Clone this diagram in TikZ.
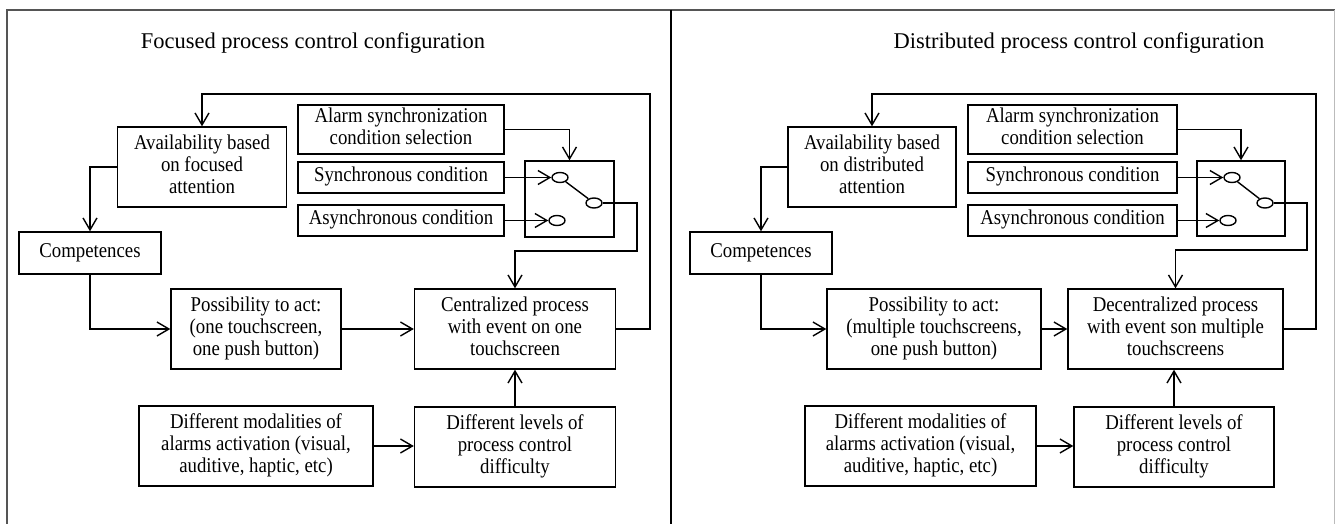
\documentclass[tikz,border=0pt]{standalone}
\usepackage{graphicx}
\usepackage{fontspec}
\setmainfont{Liberation Serif}
\usetikzlibrary{arrows.meta, positioning, calc, shapes.geometric}
\definecolor{ink}{HTML}{000000}
\definecolor{frame}{HTML}{555555}
\definecolor{edge}{HTML}{BBBBBB}
% box text is set a little taller than wide, as in the scanned figure
\newcommand{\tallcell}[1]{\scalebox{1}[1.12]{\begin{tabular}{@{}c@{}}#1\end{tabular}}}
\tikzset{
  font=\fontsize{9.4}{9.8}\selectfont,
  >={Straight Barb[length=6pt, width=7pt]},
  %
  blk/.style={draw=ink, line width=0.7pt, fill=white, align=center,
              inner sep=0pt, text=ink},
  ttl/.style={font=\fontsize{11.25}{13}\selectfont, text=ink},
  pin/.style={draw=ink, line width=0.7pt, ellipse, inner sep=0pt,
              minimum width=8pt, minimum height=5pt},
  %
  flow/.style={draw=ink, line width=0.7pt, ->},
  wire/.style={draw=ink, line width=0.7pt},
  rim/.style={draw=frame, line width=1pt},
  split/.style={draw=ink, line width=1pt},
}

\begin{document}
\begin{tikzpicture}[x=0.5pt, y=-0.5pt]

\useasboundingbox (0,0) rectangle (1335,524);

% frame
\draw[rim] (7,524) -- (7,10) -- (1335,10);
\draw[split] (671,10) -- (671,524);
\draw[draw=edge, line width=0.5pt] (1334,10) -- (1334,524);

% =========================================================================
\begin{scope}
  \node[ttl] (t1) at (313,43) {Focused process control configuration};

  \node[blk, minimum width=84.5pt, minimum height=40pt] (avail1) at (202,167)
    {\tallcell{Availability based\\on focused\\attention}};
  \node[blk, minimum width=71pt, minimum height=21pt] (comp1) at (90,253)
    {\tallcell{Competences}};
  \node[blk, minimum width=103pt, minimum height=24.5pt] (alarm1) at (401,129.5)
    {\tallcell{Alarm synchronization\\condition selection}};
  \node[blk, minimum width=103pt, minimum height=15.5pt] (sync1) at (401,177.5)
    {\tallcell{Synchronous condition}};
  \node[blk, minimum width=103pt, minimum height=15.5pt] (async1) at (401,220.5)
    {\tallcell{Asynchronous condition}};
  \node[blk, minimum width=44.5pt, minimum height=38pt] (switch1) at (569.5,199) {};
  \node[pin] (a1) at (560,177.5) {};
  \node[pin] (b1) at (594,203) {};
  \node[pin] (c1) at (557,220.5) {};
  \node[blk, minimum width=85pt, minimum height=40pt] (poss1) at (256,329)
    {\tallcell{Possibility to act:\\(one touchscreen,\\one push button)}};
  \node[blk, minimum width=100.5pt, minimum height=40pt] (cent1) at (515,329)
    {\tallcell{Centralized process\\with event on one\\touchscreen}};
  \node[blk, minimum width=117pt, minimum height=40pt] (mod1) at (256,446)
    {\tallcell{Different modalities of\\alarms activation (visual,\\auditive, haptic, etc)}};
  \node[blk, minimum width=100.5pt, minimum height=40pt] (lev1) at (515,447)
    {\tallcell{Different levels of\\process control\\difficulty}};

  \coordinate (fb1) at (650,94);
  \coordinate (j1) at (637,251);

  \draw[flow] (cent1.east) -| (fb1) -| (avail1.north);
  \draw[flow] (avail1.west) -| (comp1.north);
  \draw[flow] (comp1.south) |- (poss1.west);
  \draw[flow] (poss1) -- (cent1);
  \draw[flow] (mod1.east) -- (mod1.east -| lev1.west);
  \draw[flow] (lev1.north) -- (lev1.north |- cent1.south);
  \draw[flow] (alarm1.east) -| (switch1.north);
  \draw[flow] (sync1.east) -- (a1.west);
  \draw[flow] (async1.east) -- (c1.west);
  \draw[wire] (a1) -- (b1);
  \draw[flow] (b1.east) -| (j1) -| (cent1.north);
\end{scope}

% =========================================================================
\begin{scope}
  \node[ttl] (t2) at (1079,43) {Distributed process control configuration};

  \node[blk, minimum width=84pt, minimum height=40pt] (avail2) at (872,167)
    {\tallcell{Availability based\\on distributed\\attention}};
  \node[blk, minimum width=71pt, minimum height=21pt] (comp2) at (761,253)
    {\tallcell{Competences}};
  \node[blk, minimum width=104.5pt, minimum height=24.5pt] (alarm2) at (1072.5,129.5)
    {\tallcell{Alarm synchronization\\condition selection}};
  \node[blk, minimum width=104.5pt, minimum height=15.5pt] (sync2) at (1072.5,177.5)
    {\tallcell{Synchronous condition}};
  \node[blk, minimum width=104.5pt, minimum height=15.5pt] (async2) at (1072.5,220.5)
    {\tallcell{Asynchronous condition}};
  \node[blk, minimum width=44pt, minimum height=37.5pt] (switch2) at (1241,198.5) {};
  \node[pin] (a2) at (1232,177.5) {};
  \node[pin] (b2) at (1265,203) {};
  \node[pin] (c2) at (1228,220.5) {};
  \node[blk, minimum width=107pt, minimum height=40pt] (poss2) at (934,329)
    {\tallcell{Possibility to act:\\(multiple touchscreens,\\one push button)}};
  \node[blk, minimum width=107.5pt, minimum height=40pt] (dec2) at (1175.5,329)
    {\tallcell{Decentralized process\\with event son multiple\\touchscreens}};
  \node[blk, minimum width=115.5pt, minimum height=40pt] (mod2) at (920.5,446)
    {\tallcell{Different modalities of\\alarms activation (visual,\\auditive, haptic, etc)}};
  \node[blk, minimum width=100pt, minimum height=40pt] (lev2) at (1174,447)
    {\tallcell{Different levels of\\process control\\difficulty}};

  \coordinate (fb2) at (1316,94);
  \coordinate (j2) at (1307,250);

  \draw[flow] (dec2.east) -| (fb2) -| (avail2.north);
  \draw[flow] (avail2.west) -| (comp2.north);
  \draw[flow] (comp2.south) |- (poss2.west);
  \draw[flow] (poss2) -- (dec2);
  \draw[flow] (mod2.east) -- (mod2.east -| lev2.west);
  \draw[flow] (lev2.north) -- (lev2.north |- dec2.south);
  \draw[flow] (alarm2.east) -| (switch2.north);
  \draw[flow] (sync2.east) -- (a2.west);
  \draw[flow] (async2.east) -- (c2.west);
  \draw[wire] (a2) -- (b2);
  \draw[flow] (b2.east) -| (j2) -| (dec2.north);
\end{scope}

\end{tikzpicture}
\end{document}
